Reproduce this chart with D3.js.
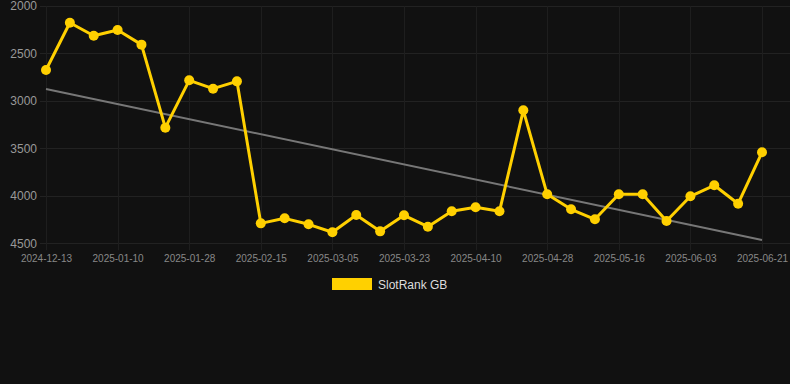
<!DOCTYPE html>
<html>
<head>
<meta charset="utf-8">
<script src="https://cdn.jsdelivr.net/npm/d3@7"></script>
<style>
  body { margin: 0; background: #111111; }
  svg { display: block; font-family: "Liberation Sans", Arial, sans-serif; }
</style>
</head>
<body>
<script>
// chart data
var dates = [
  "2024-12-13", "2024-12-22", "2024-12-31", "2025-01-10", "2025-01-16", "2025-01-22",
  "2025-01-28", "2025-02-03", "2025-02-09", "2025-02-15", "2025-02-21", "2025-02-27",
  "2025-03-05", "2025-03-11", "2025-03-17", "2025-03-23", "2025-03-29", "2025-04-04",
  "2025-04-10", "2025-04-16", "2025-04-22", "2025-04-28", "2025-05-04", "2025-05-10",
  "2025-05-16", "2025-05-22", "2025-05-28", "2025-06-03", "2025-06-09", "2025-06-15",
  "2025-06-21"
];
var rank = [
  2674, 2176, 2313, 2253, 2407, 3282, 2783, 2871, 2794, 4290, 4237,
  4300, 4384, 4202, 4374, 4205, 4325, 4163, 4121, 4163, 3099,
  3984, 4142, 4247, 3984, 3984, 4265, 4005, 3889, 4083, 3541
];
var trend = [2874, 4465]; // first and last value of the trend line
var yTicks = [2000, 2500, 3000, 3500, 4000, 4500];
var seriesName = "SlotRank GB";

var svgWidth = 790;
var svgHeight = 384;
var gold = "#FFD000";

var svg = d3.select("body")
  .append("svg")
  .attr("width", svgWidth)
  .attr("height", svgHeight);

var x = d3.scalePoint()
  .domain(dates)
  .range([46, 762]);

var y = d3.scaleLinear()
  .domain([2000, 4500])
  .range([6, 243.3]);

var shownDates = dates.filter((d, i) => i % 3 === 0);

// horizontal grid
svg.append("g")
  .selectAll("line")
  .data(yTicks)
  .enter().append("line")
  .attr("x1", 40)
  .attr("x2", 790)
  .attr("y1", d => Math.round(y(d)) + 0.5)
  .attr("y2", d => Math.round(y(d)) + 0.5)
  .attr("stroke", "#222222");

// vertical grid + tick marks
svg.append("g")
  .selectAll("line")
  .data(shownDates)
  .enter().append("line")
  .attr("x1", d => Math.round(x(d)) + 0.5)
  .attr("x2", d => Math.round(x(d)) + 0.5)
  .attr("y1", y(2000))
  .attr("y2", y(4500) + 7)
  .attr("stroke", "#1e1e1e");

// y axis labels
var leftAxis = d3.axisLeft(y).tickValues(yTicks).tickSize(0).tickPadding(0).tickFormat(d3.format("d"));
var gy = svg.append("g")
  .attr("transform", "translate(37,0)")
  .call(leftAxis);
gy.select(".domain").remove();
gy.selectAll("text")
  .attr("fill", "#999999")
  .style("font-size", "12px")
  .style("font-family", "Liberation Sans, Arial, sans-serif");

// x axis labels
var bottomAxis = d3.axisBottom(x).tickValues(shownDates).tickSize(0).tickPadding(0);
var gx = svg.append("g")
  .attr("transform", "translate(0,255)")
  .call(bottomAxis);
gx.select(".domain").remove();
gx.selectAll("text")
  .attr("fill", "#888888")
  .attr("dy", "0.71em")
  .style("font-size", "10px")
  .style("font-family", "Liberation Sans, Arial, sans-serif");

// trend line
svg.append("line")
  .attr("x1", x(dates[0]))
  .attr("y1", y(trend[0]))
  .attr("x2", x(dates[dates.length - 1]))
  .attr("y2", y(trend[1]))
  .attr("stroke", "#777777")
  .attr("stroke-width", 2);

// series line
var line = d3.line()
  .x((d, i) => x(dates[i]))
  .y(d => y(d));

svg.append("path")
  .datum(rank)
  .attr("d", line)
  .attr("fill", "none")
  .attr("stroke", gold)
  .attr("stroke-width", 3)
  .attr("stroke-linejoin", "round");

svg.append("g")
  .selectAll("circle")
  .data(rank)
  .enter().append("circle")
  .attr("cx", (d, i) => x(dates[i]))
  .attr("cy", d => y(d))
  .attr("r", 5)
  .attr("fill", gold);

// legend
var legend = svg.append("g");
legend.append("rect")
  .attr("x", 332)
  .attr("y", 278)
  .attr("width", 40)
  .attr("height", 12)
  .attr("fill", gold);
legend.append("text")
  .attr("x", 378)
  .attr("y", 288.5)
  .attr("fill", "#dddddd")
  .style("font-size", "12px")
  .text(seriesName);
</script>
</body>
</html>
